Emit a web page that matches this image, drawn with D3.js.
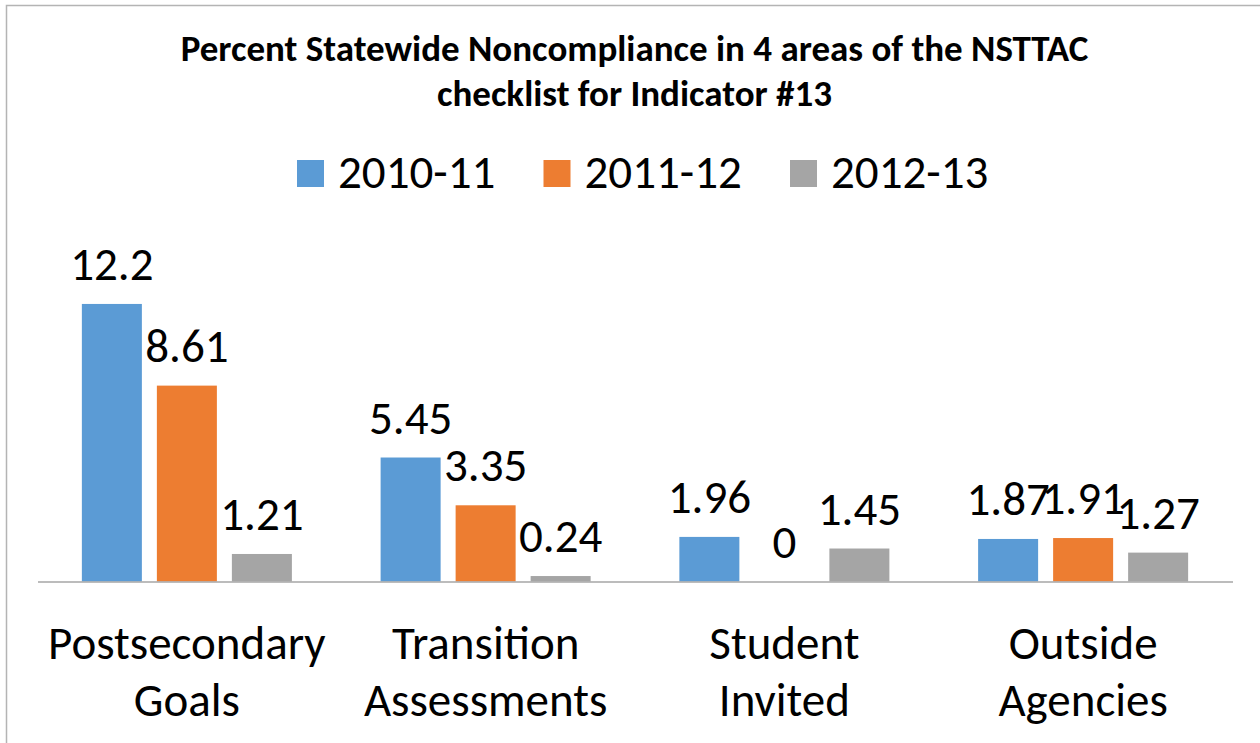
<!DOCTYPE html>
<html>
<head>
<meta charset="utf-8">
<script src="https://cdn.jsdelivr.net/npm/d3@7"></script>
<style>
  body { margin: 0; background: #fff; }
  text { font-family: Carlito, Calibri, Lato, sans-serif; }
</style>
</head>
<body>
<div id="chart"></div>
<script>
// Données
const categories = [["Postsecondary", "Goals"], ["Transition", "Assessments"], ["Student", "Invited"], ["Outside", "Agencies"]];
const series = ["2010-11", "2011-12", "2012-13"];
const values2010 = [12.2, 5.45, 1.96, 1.87];
const values2011 = [8.61, 3.35, 0, 1.91];
const values2012 = [1.21, 0.24, 1.45, 1.27];
const titleLines = ["Percent Statewide Noncompliance in 4 areas of the NSTTAC", "checklist for Indicator #13"];

const colors = ["#5B9BD5", "#ED7D31", "#A5A5A5"];
const allValues = [values2010, values2011, values2012];

// Dimensions
const width = 1260;
const height = 743;
const baseY = 581.5;
const fontSize = 47;

const svg = d3.create("svg")
    .attr("width", width)
    .attr("height", height)
    .attr("viewBox", [0, 0, width, height]);

svg.append("rect")
    .attr("width", width).attr("height", height)
    .attr("fill", "#fff");

// cadre du graphique
svg.append("rect")
    .attr("x", 6.5).attr("y", 5.5)
    .attr("width", 1400).attr("height", 900)
    .attr("fill", "none")
    .attr("stroke", "#b4b4b4")
    .attr("stroke-width", 1.5);

// Échelles
const catKeys = categories.map(d => d.join(" "));
const x0 = d3.scaleBand(catKeys, [37.5, 1232.5]).paddingInner(0.297).paddingOuter(0.1485);
const x1 = d3.scaleBand(series, [0, x0.bandwidth()]).paddingInner(0.2).paddingOuter(0);
const y = d3.scaleLinear([0, 14], [baseY, 263]);

// Titre
svg.append("g")
    .selectAll("text")
    .data(titleLines)
    .join("text")
      .attr("x", 634.5)
      .attr("y", (d, i) => 61 + i * 45)
      .attr("text-anchor", "middle")
      .attr("font-size", 37)
      .attr("font-weight", "bold")
      .attr("fill", "#000")
      .text(d => d);

// Légende
const legend = svg.append("g")
    .selectAll("g")
    .data(series)
    .join("g")
      .attr("transform", (d, i) => `translate(${297 + i * 246.5},160)`);

legend.append("rect")
    .attr("width", 27).attr("height", 27)
    .attr("fill", (d, i) => colors[i]);

legend.append("text")
    .attr("x", 41)
    .attr("y", 28)
    .attr("font-size", fontSize)
    .attr("fill", "#000")
    .text(d => d);

// Barres
const groups = svg.append("g")
    .selectAll("g")
    .data(catKeys)
    .join("g")
      .attr("transform", d => `translate(${x0(d)},0)`);

const cells = groups.selectAll("g")
    .data((d, ci) => series.map((s, si) => ({s, si, v: allValues[si][ci]})))
    .join("g");

cells.append("rect")
    .attr("x", d => x1(d.s))
    .attr("y", d => y(d.v))
    .attr("width", x1.bandwidth())
    .attr("height", d => baseY - y(d.v))
    .attr("fill", d => colors[d.si]);

cells.append("text")
    .attr("x", d => x1(d.s) + x1.bandwidth() / 2)
    .attr("y", d => y(d.v) - 24)
    .attr("text-anchor", "middle")
    .attr("font-size", fontSize)
    .attr("fill", "#000")
    .text(d => d.v);

// Axe horizontal
const xAxis = d3.axisBottom(x0).tickSize(0).tickFormat("");
svg.append("g")
    .attr("transform", `translate(0,${baseY})`)
    .call(xAxis)
    .call(g => g.select(".domain").attr("stroke", "#a6a6a6").attr("stroke-width", 1.5));

// Libellés des catégories
svg.append("g")
    .selectAll("text")
    .data(categories)
    .join("text")
      .attr("text-anchor", "middle")
      .attr("font-size", fontSize)
      .attr("fill", "#000")
      .attr("transform", (d, i) => `translate(${x0(catKeys[i]) + x0.bandwidth() / 2},0)`)
      .selectAll("tspan")
      .data(d => d)
      .join("tspan")
        .attr("x", 0)
        .attr("y", (d, i) => 659 + i * 57)
        .text(d => d);

document.getElementById("chart").appendChild(svg.node());
</script>
</body>
</html>
